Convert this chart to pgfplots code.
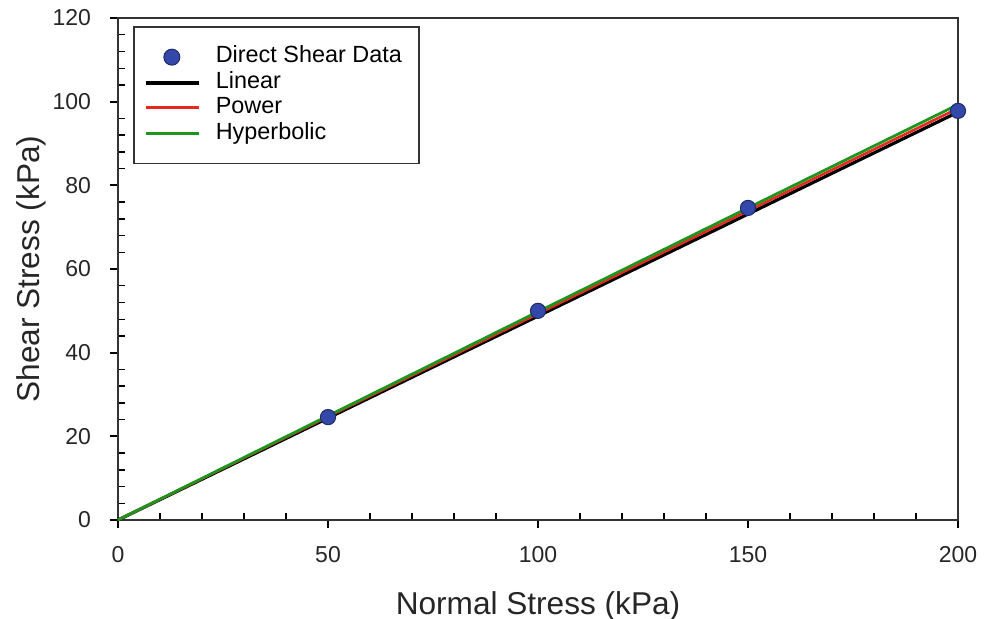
\documentclass[border=0pt]{standalone}
\usepackage{pgfplots}
\pgfplotsset{compat=1.18}
\usepackage{fontspec}
\setmainfont{Liberation Sans}
\definecolor{dotblue}{RGB}{52,72,170}
\definecolor{lgreen}{RGB}{30,150,30}
\definecolor{lred}{RGB}{230,40,30}
\pgfplotsset{
  dotlegend/.style={legend image code/.code={\draw[##1] plot coordinates {(13pt,0pt)};}},
}
\begin{document}
\begin{tikzpicture}[x=1pt,y=1pt]
\begin{axis}[
  scale only axis, width=420pt, height=251pt,
  xmin=0, xmax=200, ymin=0, ymax=120,
  xtick={0,50,...,200}, ytick={0,20,...,120},
  minor x tick num=4, minor y tick num=4,
  axis line style={line width=0.9pt, black!80},
  major tick style={line width=0.9pt, black},
  minor tick style={line width=0.7pt, black},
  tick align=outside,
  major tick length=4pt, minor tick length=-3.5pt,
  xtick pos=bottom, ytick pos=left,
  /pgf/number format/assume math mode=true,
  ticklabel style={font=\fontsize{11.5}{13}\selectfont, text=black!85},
  xticklabel style={yshift=-5.5pt},
  yticklabel style={xshift=-6pt},
  xlabel={Normal Stress (kPa)}, ylabel={Shear Stress (kPa)},
  label style={font=\fontsize{15.8}{18}\selectfont, text=black!85},
  xlabel style={at={(rel axis cs:0.5,-0.189)}, anchor=base},
  ylabel style={at={(rel axis cs:-0.093,0.5)}, anchor=base},
  clip=false,
  legend style={at={(rel axis cs:0.0179,0.984)}, anchor=north west,
    draw=black!80, line width=0.8pt, font=\fontsize{11.7}{13}\selectfont,
    row sep=0pt, column sep=4pt, inner xsep=5pt, inner ysep=8.8pt,
    nodes={text height=8.7pt, text depth=3pt, inner ysep=0.5pt, inner xsep=3.5pt}},
  legend cell align=left,
  legend image code/.code={\draw[#1] (0pt,0pt) -- (26.5pt,0pt);},
]
\coordinate (bl) at (rel axis cs:-0.1405,-0.197);
\coordinate (tr) at (rel axis cs:1.0405,1.0359);
\addlegendimage{only marks, mark=*, mark size=4pt, mark options={fill=dotblue, draw=dotblue!60!black, line width=0.5pt}, dotlegend}
\addlegendentry{Direct Shear Data}
\addlegendimage{black, line width=2pt}
\addlegendentry{Linear}
\addlegendimage{lred, line width=1.5pt}
\addlegendentry{Power}
\addlegendimage{lgreen, line width=1.5pt}
\addlegendentry{Hyperbolic}
\addplot[black, line width=1.6pt, forget plot] coordinates {(0,0) (200,97.5)};
\addplot[lred, line width=1.3pt, forget plot] coordinates {(0,0) (50,24.7) (100,49.3) (150,73.9) (200,98.4)};
\addplot[lgreen, line width=1.4pt, forget plot] coordinates {(0,0) (50,24.9) (100,49.8) (150,74.6) (200,99.3)};
\addplot[only marks, mark=*, mark size=3.8pt, mark options={fill=dotblue, draw=dotblue!60!black, line width=0.5pt}, forget plot] coordinates {(50,24.6) (100,50.0) (150,74.6) (200,97.8)};
\end{axis}
\pgfresetboundingbox
\path[use as bounding box] (bl) rectangle (tr);
\end{tikzpicture}
\end{document}
